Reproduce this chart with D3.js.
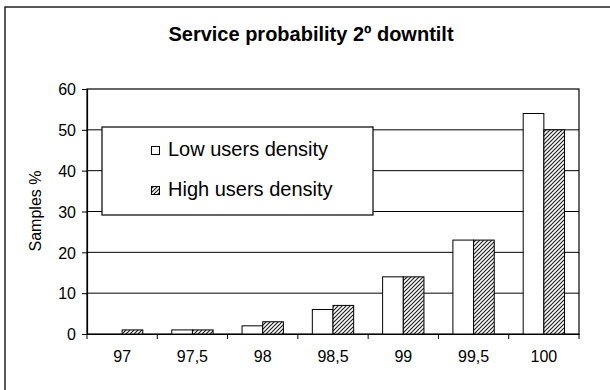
<!DOCTYPE html>
<html>
<head>
<meta charset="utf-8">
<script src="https://cdn.jsdelivr.net/npm/d3@7"></script>
<style>
  body { margin: 0; background: #fff; }
  svg text { font-family: Arial, "Liberation Sans", sans-serif; fill: #000; }
</style>
</head>
<body>
<div class="chart"></div>
<script>
const categories = ['97', '97,5', '98', '98,5', '99', '99,5', '100'];
const lowDensity = [0, 1, 2, 6, 14, 23, 54];
const highDensity = [1, 1, 3, 7, 14, 23, 50];
const yTicks = [0, 10, 20, 30, 40, 50, 60];
const seriesNames = ['Low users density', 'High users density'];

const W = 610, H = 390;
const margin = { top: 89, right: 31, bottom: 56, left: 87 },
    width = W - margin.left - margin.right,
    height = H - margin.top - margin.bottom;

const root = d3.select('div.chart').append('svg')
    .attr('width', W)
    .attr('height', H);

const defs = root.append('defs');
const pat = defs.append('pattern')
    .attr('id', 'hatch')
    .attr('patternUnits', 'userSpaceOnUse')
    .attr('width', 4)
    .attr('height', 4);
pat.append('rect').attr('width', 4).attr('height', 4).attr('fill', '#fff');
pat.append('path')
    .attr('d', 'M-1,1 l2,-2 M0,4 l4,-4 M3,5 l2,-2')
    .attr('stroke', '#222')
    .attr('stroke-width', 1.2);

// chart area border (only top and left show in the picture)
root.append('rect')
    .attr('x', 5).attr('y', 7)
    .attr('width', 700).attr('height', 500)
    .attr('fill', 'none')
    .attr('stroke', '#222')
    .attr('stroke-width', 1.5);

root.append('text')
    .attr('x', 311)
    .attr('y', 41)
    .attr('text-anchor', 'middle')
    .attr('font-size', 20)
    .attr('font-weight', 'bold')
    .text('Service probability 2º downtilt');

const svg = root.append('g')
    .attr('transform', `translate(${margin.left},${margin.top})`);

const x0 = d3.scaleBand()
    .domain(categories)
    .range([0, width])
    .paddingInner(0)
    .paddingOuter(0);

const groupW = x0.bandwidth() / 1.7;
const x1 = d3.scaleBand()
    .domain([0, 1])
    .range([0, groupW]);

const y = d3.scaleLinear()
    .domain([0, 60])
    .range([height, 0]);

// gridlines
svg.append('g')
    .selectAll('line')
    .data(yTicks.filter(d => d > 0 && d < 60))
    .enter()
    .append('line')
        .attr('x1', 0).attr('x2', width)
        .attr('y1', d => y(d)).attr('y2', d => y(d))
        .attr('stroke', '#000')
        .attr('stroke-width', 1);

// plot area frame
svg.append('rect')
    .attr('x', 0).attr('y', 0)
    .attr('width', width).attr('height', height)
    .attr('fill', 'none')
    .attr('stroke', '#000')
    .attr('stroke-width', 1.2);

const series = [lowDensity, highDensity];
series.forEach((vals, s) => {
    svg.append('g')
        .selectAll('rect')
        .data(vals.map((v, i) => ({ cat: categories[i], v: v })))
        .enter()
        .filter(d => d.v > 0)
        .append('rect')
            .attr('x', d => x0(d.cat) + (x0.bandwidth() - groupW) / 2 + x1(s))
            .attr('y', d => y(d.v))
            .attr('width', x1.bandwidth())
            .attr('height', d => y(0) - y(d.v))
            .attr('fill', s === 0 ? '#fff' : 'url(#hatch)')
            .attr('stroke', '#000')
            .attr('stroke-width', 1);
});

// axes
const yAxis = svg.append('g')
    .call(d3.axisLeft(y).tickValues(yTicks).tickSize(5).tickPadding(6));
yAxis.select('.domain').attr('stroke-width', 1.2);
yAxis.selectAll('text').attr('font-size', 16).attr('font-family', 'Arial, "Liberation Sans", sans-serif').attr('dy', '0.36em');

const xAxis = svg.append('g')
    .attr('transform', `translate(0,${height})`)
    .call(d3.axisBottom(x0).tickSize(0).tickPadding(17));
xAxis.select('.domain').attr('stroke-width', 1.2);
xAxis.selectAll('text').attr('font-size', 16).attr('font-family', 'Arial, "Liberation Sans", sans-serif');

// category boundary ticks
svg.append('g')
    .selectAll('line')
    .data(d3.range(categories.length + 1))
    .enter()
    .append('line')
        .attr('x1', i => i * x0.step()).attr('x2', i => i * x0.step())
        .attr('y1', height).attr('y2', height + 5)
        .attr('stroke', '#000');

root.append('text')
    .attr('transform', 'translate(41,211) rotate(-90)')
    .attr('text-anchor', 'middle')
    .attr('font-size', 16)
    .text('Samples %');

// legend
const leg = root.append('g');
leg.append('rect')
    .attr('x', 102).attr('y', 127)
    .attr('width', 271).attr('height', 88)
    .attr('fill', '#fff')
    .attr('stroke', '#000')
    .attr('stroke-width', 1.2);

seriesNames.forEach((name, i) => {
    const by = 156 + i * 40;
    leg.append('rect')
        .attr('x', 151.5).attr('y', by - 9.5)
        .attr('width', 8).attr('height', 8)
        .attr('fill', i === 0 ? '#fff' : 'url(#hatch)')
        .attr('stroke', '#000')
        .attr('stroke-width', 1);
    leg.append('text')
        .attr('x', 168)
        .attr('y', by)
        .attr('font-size', 20)
        .text(name);
});
</script>
</body>
</html>
